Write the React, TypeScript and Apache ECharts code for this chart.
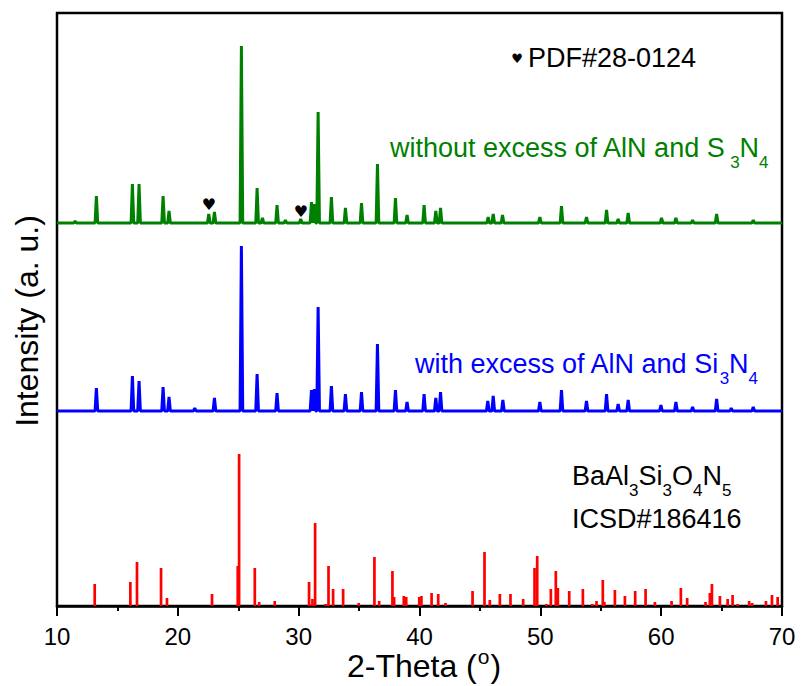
import React, { useEffect, useRef } from "react";
import * as echarts from "echarts";

const FONT = '"Liberation Sans", Arial, Helvetica, sans-serif';

const X_MIN = 10;
const X_MAX = 70;
const X_INTERVAL = 10;

// Peak positions (2-theta, deg) and heights (a.u.)
const GREEN_PEAKS: [number, number][] = [
  [11.5, 2], [13.26, 27], [16.24, 39], [16.79, 39], [18.78, 27], [19.27, 12],
  [22.56, 9], [23.03, 11], [25.26, 177], [26.56, 35], [27.0, 5], [28.21, 18],
  [28.9, 3], [30.17, 4], [31.06, 21], [31.3, 19], [31.61, 111], [32.71, 26],
  [33.87, 15], [35.2, 20], [36.52, 59], [38.01, 25], [38.97, 8], [40.38, 18],
  [41.35, 12], [41.74, 15], [45.68, 6], [46.1, 9], [46.87, 8], [49.96, 6],
  [51.75, 17], [53.82, 6], [55.48, 13], [56.44, 4], [57.27, 10], [60.03, 5],
  [61.22, 5], [62.6, 3], [64.59, 9], [67.62, 3],
];

const BLUE_PEAKS: [number, number][] = [
  [13.26, 23], [16.24, 35], [16.79, 30], [18.78, 24], [19.27, 14], [21.4, 3],
  [23.03, 13], [25.26, 165], [26.56, 37], [28.21, 18], [31.06, 21], [31.3, 22],
  [31.61, 104], [32.71, 25], [33.87, 17], [35.2, 19], [36.52, 67], [38.01, 21],
  [38.97, 9], [40.38, 17], [41.35, 13], [41.74, 19], [45.65, 10], [46.1, 15],
  [46.9, 11], [49.96, 9], [51.75, 21], [53.82, 10], [55.48, 17], [56.44, 7],
  [57.27, 11], [59.98, 6], [61.22, 9], [62.6, 4], [64.59, 12], [65.8, 3],
  [67.62, 4],
];

// Reference pattern BaAl3Si3O4N5 (ICSD#186416) stick positions and intensities
const RED_STICKS: [number, number][] = [
  [13.12, 22], [16.07, 24], [16.62, 44], [18.61, 38], [19.1, 8], [22.83, 12],
  [24.96, 40], [25.07, 152], [26.37, 38], [26.73, 4], [28.02, 5], [30.86, 24],
  [31.14, 7], [31.36, 83], [32.24, 2], [32.47, 40], [32.85, 17], [33.68, 17],
  [34.97, 3], [36.27, 49], [36.66, 5], [37.76, 35], [37.9, 9], [38.7, 10],
  [38.9, 9], [39.98, 9], [40.16, 10], [41.0, 13], [41.55, 12], [42.15, 3],
  [44.39, 15], [45.38, 54], [45.82, 6], [46.65, 12], [47.53, 12], [48.58, 7],
  [49.52, 38], [49.74, 50], [50.5, 2], [50.87, 17], [51.28, 35], [51.45, 18],
  [52.39, 15], [53.52, 17], [54.3, 2], [54.65, 5], [55.17, 26], [55.3, 4],
  [56.17, 16], [57.0, 10], [57.85, 15], [58.71, 17], [59.48, 4], [60.86, 5],
  [61.63, 18], [62.15, 8], [63.67, 4], [64.03, 13], [64.2, 22], [64.86, 10],
  [65.5, 7], [65.91, 11], [66.33, 2], [67.28, 5], [67.53, 3], [68.67, 5],
  [69.17, 11], [69.64, 9],
];

// vertical stacking offsets of the measured patterns
const GREEN_OFFSET = 383;
const BLUE_OFFSET = 195;
const Y_MAX = 593;

const GREEN = "#008000";
const BLUE = "#0000ff";
const RED = "#ff0000";

function buildProfile(peaks: [number, number][], offset: number): number[][] {
  const hw = 0.11;
  const pts: number[][] = [[X_MIN, offset]];
  for (const [p, h] of peaks) {
    pts.push([p - hw, offset]);
    pts.push([p, offset + h]);
    pts.push([p + hw, offset]);
  }
  pts.push([X_MAX, offset]);
  return pts;
}

export default function App() {
  const ref = useRef<HTMLDivElement>(null);
  useEffect(() => {
    if (!ref.current) return;
    const chart = echarts.init(ref.current, null, { renderer: "svg" });
    const subRich = (color: string) => ({
      m: { fontSize: 27, fontFamily: FONT, fill: color },
      s: { fontSize: 17, fontFamily: FONT, fill: color, padding: [29, 0, 0, 0] },
      g: { fontSize: 17, fontFamily: FONT, fill: color, padding: [29, 0, 0, 4] },
    });
    chart.setOption({
      animation: false,
      backgroundColor: "#ffffff",
      grid: {
        left: 57,
        right: 19,
        top: 13,
        bottom: 80,
        show: true,
        borderColor: "#000",
        borderWidth: 2.5,
        backgroundColor: "transparent",
      },
      xAxis: {
        type: "value",
        min: X_MIN,
        max: X_MAX,
        interval: X_INTERVAL,
        axisLine: { show: true, lineStyle: { color: "#000", width: 2.5 } },
        axisTick: { show: true, inside: false, length: 10, lineStyle: { color: "#000", width: 2 } },
        minorTick: { show: true, splitNumber: 2, length: 5, lineStyle: { color: "#000", width: 2 } },
        axisLabel: { color: "#000", fontSize: 24, fontFamily: FONT, margin: 18 },
        splitLine: { show: false },
      },
      yAxis: {
        type: "value",
        min: 0,
        max: Y_MAX,
        axisLine: { show: false },
        axisTick: { show: false },
        axisLabel: { show: false },
        splitLine: { show: false },
      },
      series: [
        {
          type: "bar",
          data: RED_STICKS,
          barWidth: 2.7,
          itemStyle: { color: RED },
          silent: true,
        },
        {
          type: "line",
          data: buildProfile(BLUE_PEAKS, BLUE_OFFSET),
          showSymbol: false,
          symbol: "none",
          lineStyle: { color: BLUE, width: 3 },
          silent: true,
        },
        {
          type: "line",
          data: buildProfile(GREEN_PEAKS, GREEN_OFFSET),
          showSymbol: false,
          symbol: "none",
          lineStyle: { color: GREEN, width: 3 },
          silent: true,
        },
      ],
      graphic: [
        {
          type: "text",
          x: 517,
          y: 58,
          style: { text: "♥", fontSize: 13, fontFamily: "DejaVu Sans", fill: "#000", align: "center", verticalAlign: "middle" },
        },
        {
          type: "text",
          x: 528,
          y: 58,
          style: { text: "PDF#28-0124", fontSize: 27, fontFamily: FONT, fill: "#000", align: "left", verticalAlign: "middle" },
        },
        {
          type: "text",
          x: 209,
          y: 204,
          style: { text: "♥", fontSize: 16, fontFamily: "DejaVu Sans", fill: "#000", align: "center", verticalAlign: "middle" },
        },
        {
          type: "text",
          x: 301,
          y: 211,
          style: { text: "♥", fontSize: 16, fontFamily: "DejaVu Sans", fill: "#000", align: "center", verticalAlign: "middle" },
        },
        {
          type: "text",
          x: 390,
          y: 148,
          style: {
            text: "{m|without excess of AlN and S}{g|3}{m|N}{s|4}",
            rich: subRich(GREEN),
            align: "left",
            verticalAlign: "middle",
          },
        },
        {
          type: "text",
          x: 415,
          y: 364,
          style: {
            text: "{m|with excess of AlN and Si}{s|3}{m|N}{s|4}",
            rich: subRich(BLUE),
            align: "left",
            verticalAlign: "middle",
          },
        },
        {
          type: "text",
          x: 572,
          y: 476,
          style: {
            text: "{m|BaAl}{s|3}{m|Si}{s|3}{m|O}{s|4}{m|N}{s|5}",
            rich: subRich("#000"),
            align: "left",
            verticalAlign: "middle",
          },
        },
        {
          type: "text",
          x: 572,
          y: 519,
          style: { text: "ICSD#186416", fontSize: 27, fontFamily: FONT, fill: "#000", align: "left", verticalAlign: "middle" },
        },
        {
          type: "text",
          x: 424,
          y: 666,
          style: {
            text: "{m|2-Theta (}{s|o}{m|)}",
            rich: {
              m: { fontSize: 32, fontFamily: FONT, fill: "#000" },
              s: { fontSize: 21, fontFamily: FONT, fill: "#000", padding: [0, 1, 20, 1] },
            },
            align: "center",
            verticalAlign: "middle",
          },
        },
        {
          type: "text",
          x: 27,
          y: 321,
          rotation: Math.PI / 2,
          style: { text: "Intensity (a. u.)", fontSize: 32, fontFamily: FONT, fill: "#000", align: "center", verticalAlign: "middle" },
        },
      ],
    });
    return () => chart.dispose();
  }, []);
  return <div ref={ref} style={{ width: 801, height: 686, position: "absolute", left: 0, top: 0 }} />;
}
